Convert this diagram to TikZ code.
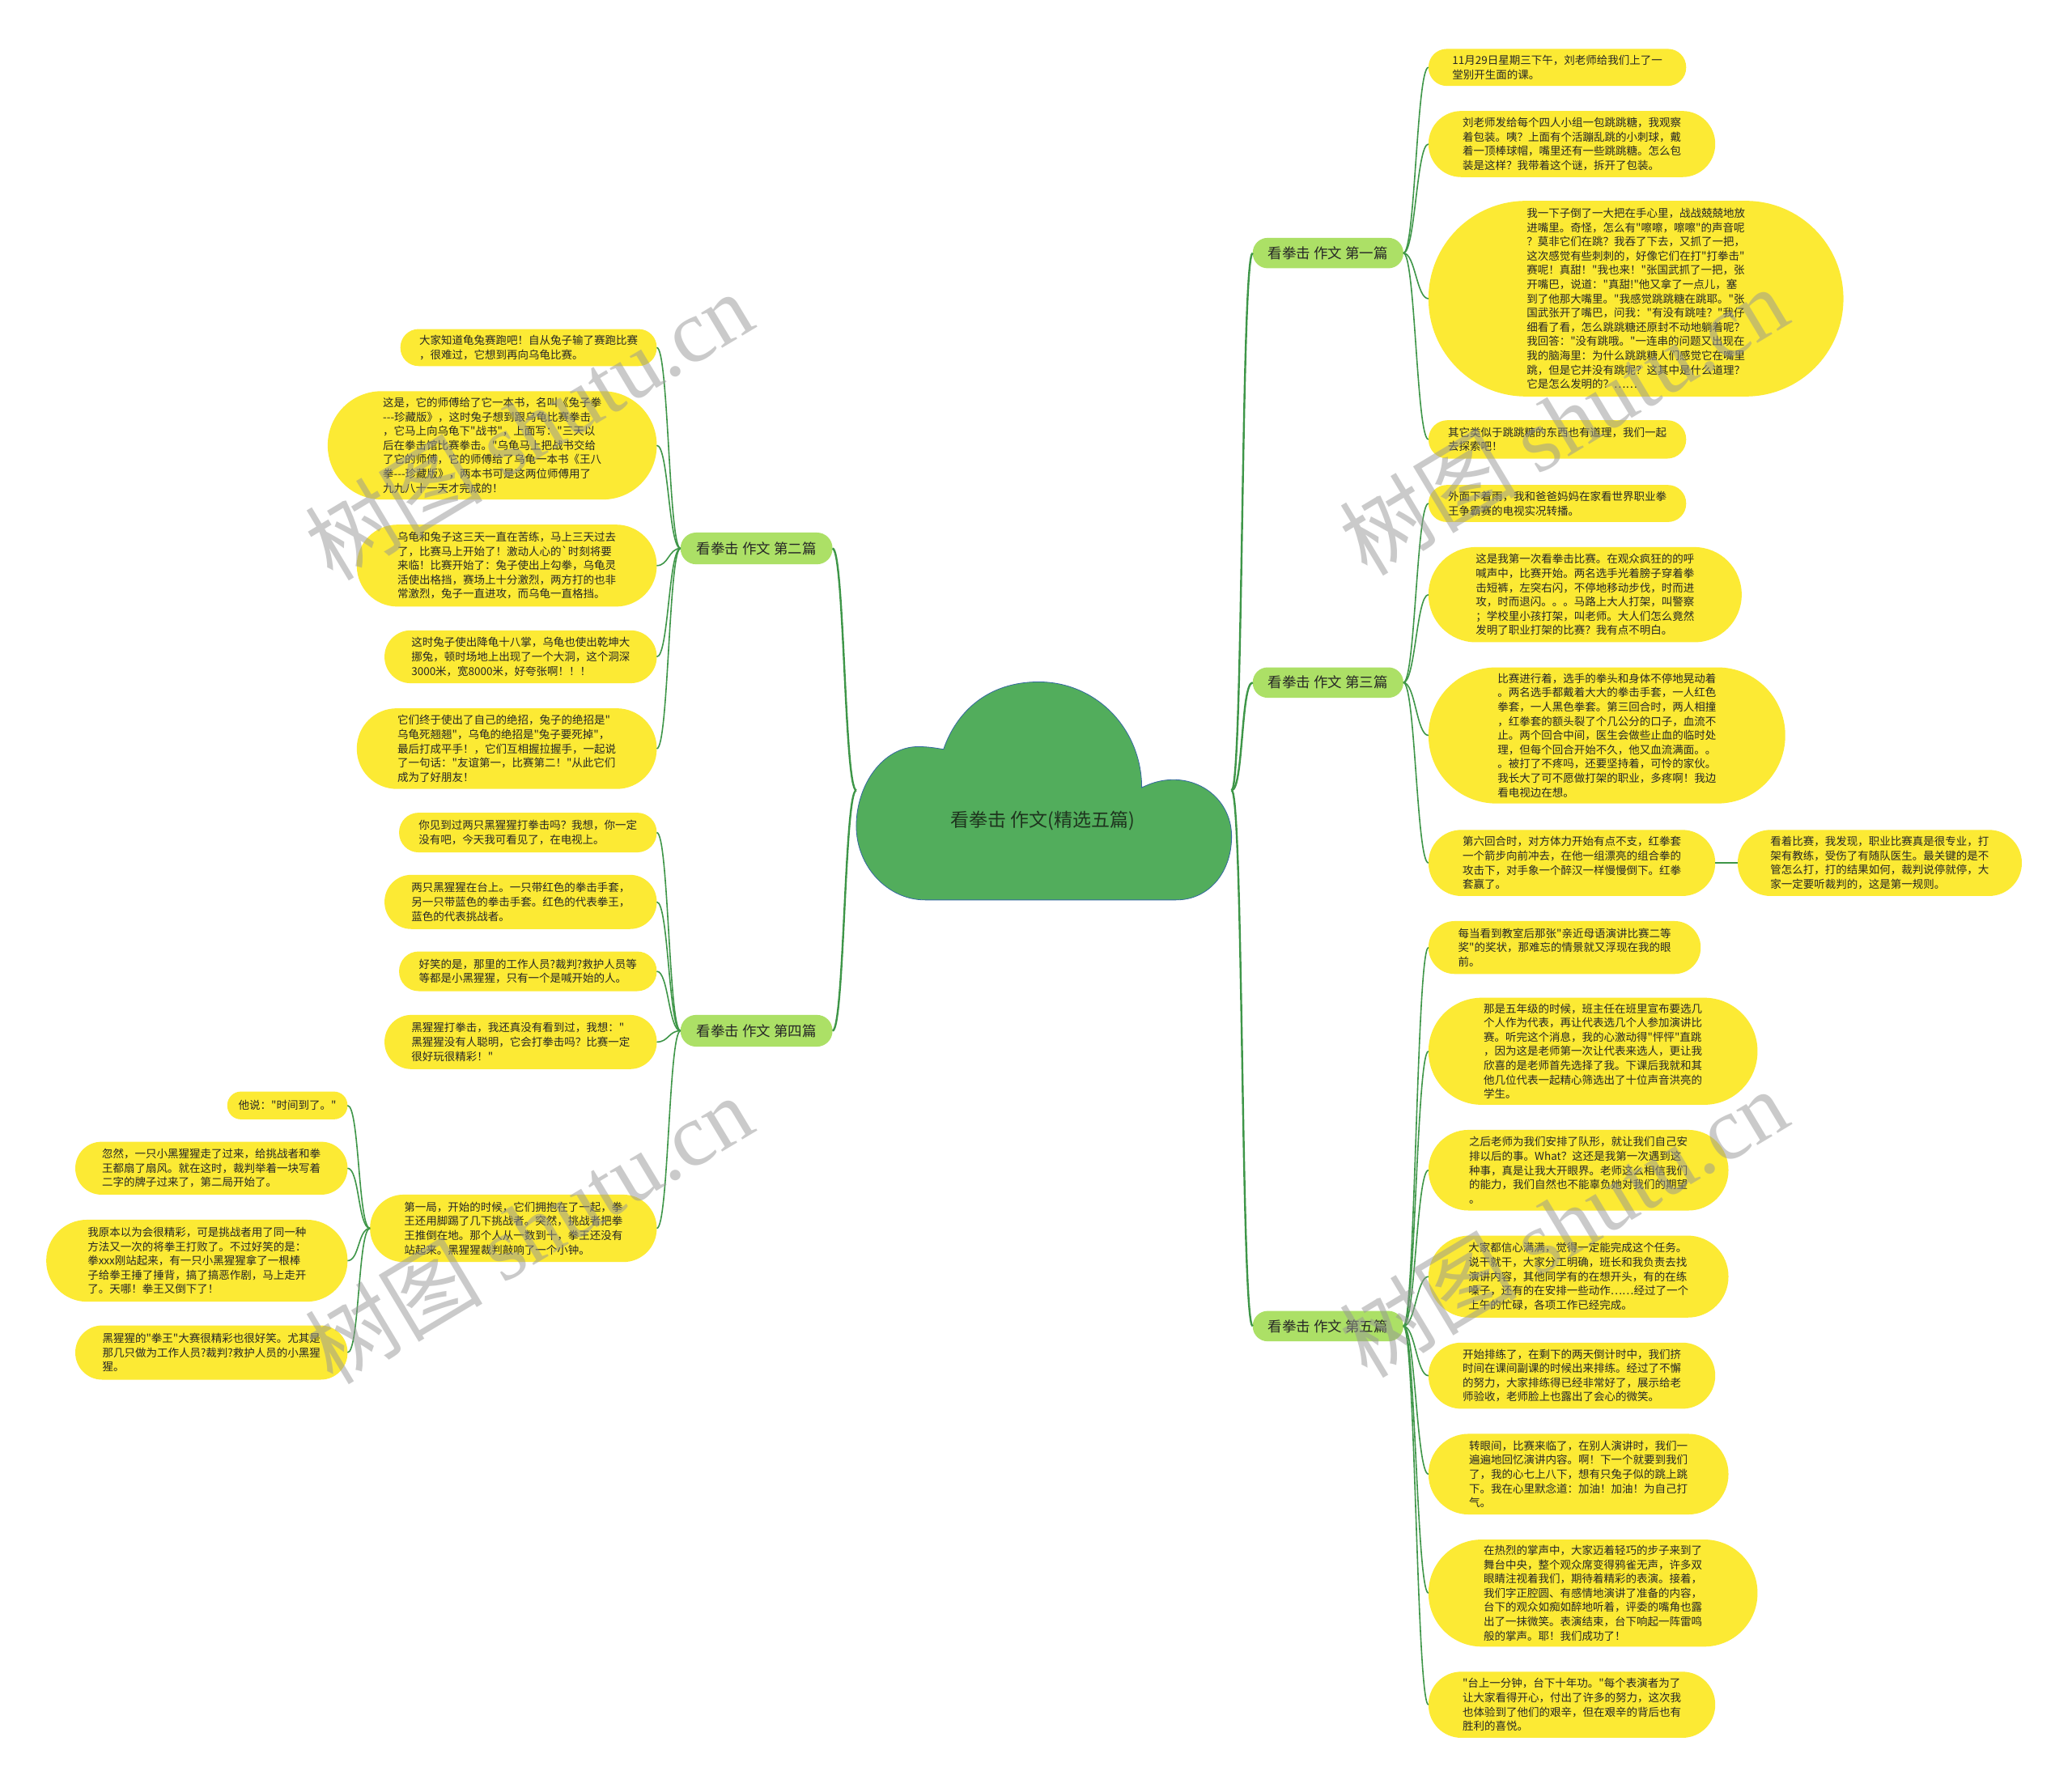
\documentclass[tikz,border=0pt]{standalone}
\usepackage{fontspec}
\newfontfamily\cjk{Noto Sans CJK SC}
\newfontfamily\wmserif{Liberation Serif}
\definecolor{leafyellow}{RGB}{252,234,52}
\definecolor{branchgreen}{RGB}{172,224,102}
\definecolor{linegreen}{RGB}{62,150,72}
\definecolor{cloudgreen}{RGB}{82,173,92}
\definecolor{cloudedge}{RGB}{52,104,160}
\definecolor{textdark}{RGB}{38,38,38}
\definecolor{wmgray}{RGB}{150,150,150}
\tikzset{
  leafbox/.style={fill=leafyellow, font=\cjk\fontsize{13.5}{17.6}\selectfont, text=textdark, align=left, inner sep=0pt, outer sep=0pt},
  branchbox/.style={fill=branchgreen, font=\cjk\fontsize{17.5}{21}\selectfont, text=textdark, inner sep=0pt, outer sep=0pt},
  conn/.style={draw=linegreen, line width=1.6pt},
  rootconn/.style={draw=linegreen, line width=2.4pt},
  wmark/.style={font=\cjk\fontsize{110}{120}\selectfont, text=wmgray, opacity=0.5, rotate=31}
}
\newcommand\mybox[7]{%
  \pgfmathsetmacro\leafW{(#5-#3)*1.6327}%
  \pgfmathsetmacro\leafH{(#6-#4)*1.6327}%
  \pgfmathsetmacro\leafR{\leafH/2-0.3}%
  \node[#1, minimum width=\leafW pt, minimum height=\leafH pt, rounded corners=\leafR pt] (#2) at ({(#3+#5)/2},{(#4+#6)/2}) {#7};}
\newcommand\rlink[3][conn]{\draw[#1] (#2.east) .. controls +(9,0) and +(-9,0) .. (#3.west);}
\newcommand\llink[3][conn]{\draw[#1] (#2.west) .. controls +(-9,0) and +(9,0) .. (#3.east);}
\begin{document}
\begin{tikzpicture}[x=1.6327pt, y=-1.6327pt]
\fill[white] (0,0) rectangle (1568,1353);
\useasboundingbox (0,0) rectangle (1568,1353);

% cloud
\filldraw[fill=cloudgreen, draw=cloudedge, line width=0.8pt]
  (700,681) -- (890,681)
  .. controls (915,681) and (932,660) .. (932,633)
  .. controls (932,608) and (912,590) .. (888,590)
  .. controls (878,590) and (870,593) .. (864,596)
  .. controls (864,552) and (830,516) .. (786,516)
  .. controls (748,516) and (724,538) .. (714,567)
  .. controls (708,566) and (702,565) .. (695,565)
  .. controls (668,565) and (648,594) .. (648,625)
  .. controls (648,656) and (672,681) .. (700,681) -- cycle;
\node[inner sep=0pt, outer sep=0pt, minimum width=463.7pt, minimum height=267.8pt] (root) at (790,598) {};
\node[font=\cjk\fontsize{23}{28}\selectfont, text={rgb,255:red,30;green,52;blue,30}] (title) at (789,621) {看拳击 作文(精选五篇)};

% branches
\mybox{branchbox}{b1}{948}{180}{1062}{203}{看拳击 作文 第一篇}
\mybox{branchbox}{b3}{948}{505}{1062}{528}{看拳击 作文 第三篇}
\mybox{branchbox}{b5}{948}{992}{1062}{1015}{看拳击 作文 第五篇}
\mybox{branchbox}{b2}{515}{403}{630}{427}{看拳击 作文 第二篇}
\mybox{branchbox}{b4}{515}{768}{630}{792}{看拳击 作文 第四篇}

% section 1
\mybox{leafbox}{r1}{1081}{37}{1276}{65}{11月29日星期三下午，刘老师给我们上了一\\堂别开生面的课。}
\mybox{leafbox}{r2}{1081}{84}{1298}{134}{刘老师发给每个四人小组一包跳跳糖，我观察\\着包装。咦？上面有个活蹦乱跳的小刺球，戴\\着一顶棒球帽，嘴里还有一些跳跳糖。怎么包\\装是这样？我带着这个谜，拆开了包装。}
\mybox{leafbox}{r3}{1081}{152}{1395}{300}{我一下子倒了一大把在手心里，战战兢兢地放\\进嘴里。奇怪，怎么有"嚓嚓，嚓嚓"的声音呢\\？莫非它们在跳？我吞了下去，又抓了一把，\\这次感觉有些刺刺的，好像它们在打"打拳击"\\赛呢！真甜！"我也来！"张国武抓了一把，张\\开嘴巴，说道："真甜!"他又拿了一点儿，塞\\到了他那大嘴里。"我感觉跳跳糖在跳耶。"张\\国武张开了嘴巴，问我："有没有跳哇？"我仔\\细看了看，怎么跳跳糖还原封不动地躺着呢？\\我回答："没有跳哦。"一连串的问题又出现在\\我的脑海里：为什么跳跳糖人们感觉它在嘴里\\跳，但是它并没有跳呢？这其中是什么道理？\\它是怎么发明的？……}
\mybox{leafbox}{r4}{1081}{318}{1276}{347}{其它类似于跳跳糖的东西也有道理，我们一起\\去探索吧！}

% section 3
\mybox{leafbox}{r5}{1081}{367}{1276}{395}{外面下着雨，我和爸爸妈妈在家看世界职业拳\\王争霸赛的电视实况转播。}
\mybox{leafbox}{r6}{1081}{414}{1318}{486}{这是我第一次看拳击比赛。在观众疯狂的的呼\\喊声中，比赛开始。两名选手光着膀子穿着拳\\击短裤，左突右闪，不停地移动步伐，时而进\\攻，时而退闪。。。马路上大人打架，叫警察\\；学校里小孩打架，叫老师。大人们怎么竟然\\发明了职业打架的比赛？我有点不明白。}
\mybox{leafbox}{r7}{1081}{505}{1351}{608}{比赛进行着，选手的拳头和身体不停地晃动着\\。两名选手都戴着大大的拳击手套，一人红色\\拳套，一人黑色拳套。第三回合时，两人相撞\\，红拳套的额头裂了个几公分的口子，血流不\\止。两个回合中间，医生会做些止血的临时处\\理，但每个回合开始不久，他又血流满面。。\\。被打了不疼吗，还要坚持着，可怜的家伙。\\我长大了可不愿做打架的职业，多疼啊！我边\\看电视边在想。}
\mybox{leafbox}{r8}{1081}{628}{1298}{678}{第六回合时，对方体力开始有点不支，红拳套\\一个箭步向前冲去，在他一组漂亮的组合拳的\\攻击下，对手象一个醉汉一样慢慢倒下。红拳\\套赢了。}
\mybox{leafbox}{r8a}{1315}{628}{1530}{678}{看着比赛，我发现，职业比赛真是很专业，打\\架有教练，受伤了有随队医生。最关键的是不\\管怎么打，打的结果如何，裁判说停就停，大\\家一定要听裁判的，这是第一规则。}

% section 5
\mybox{leafbox}{r9}{1081}{697}{1287}{737}{每当看到教室后那张"亲近母语演讲比赛二等\\奖"的奖状，那难忘的情景就又浮现在我的眼\\前。}
\mybox{leafbox}{r10}{1081}{755}{1330}{836}{那是五年级的时候，班主任在班里宣布要选几\\个人作为代表，再让代表选几个人参加演讲比\\赛。听完这个消息，我的心激动得"怦怦"直跳\\，因为这是老师第一次让代表来选人，更让我\\欣喜的是老师首先选择了我。下课后我就和其\\他几位代表一起精心筛选出了十位声音洪亮的\\学生。}
\mybox{leafbox}{r11}{1081}{855}{1308}{916}{之后老师为我们安排了队形，就让我们自己安\\排以后的事。What？这还是我第一次遇到这\\种事，真是让我大开眼界。老师这么相信我们\\的能力，我们自然也不能辜负她对我们的期望\\。}
\mybox{leafbox}{r12}{1081}{935}{1308}{997}{大家都信心满满，觉得一定能完成这个任务。\\说干就干，大家分工明确，班长和我负责去找\\演讲内容，其他同学有的在想开头，有的在练\\嗓子，还有的在安排一些动作……经过了一个\\上午的忙碌，各项工作已经完成。}
\mybox{leafbox}{r13}{1081}{1016}{1298}{1066}{开始排练了，在剩下的两天倒计时中，我们挤\\时间在课间副课的时候出来排练。经过了不懈\\的努力，大家排练得已经非常好了，展示给老\\师验收，老师脸上也露出了会心的微笑。}
\mybox{leafbox}{r14}{1081}{1085}{1308}{1146}{转眼间，比赛来临了，在别人演讲时，我们一\\遍遍地回忆演讲内容。啊！下一个就要到我们\\了，我的心七上八下，想有只兔子似的跳上跳\\下。我在心里默念道：加油！加油！为自己打\\气。}
\mybox{leafbox}{r15}{1081}{1165}{1330}{1246}{在热烈的掌声中，大家迈着轻巧的步子来到了\\舞台中央，整个观众席变得鸦雀无声，许多双\\眼睛注视着我们，期待着精彩的表演。接着，\\我们字正腔圆、有感情地演讲了准备的内容，\\台下的观众如痴如醉地听着，评委的嘴角也露\\出了一抹微笑。表演结束，台下响起一阵雷鸣\\般的掌声。耶！我们成功了！}
\mybox{leafbox}{r16}{1081}{1265}{1298}{1315}{"台上一分钟，台下十年功。"每个表演者为了\\让大家看得开心，付出了许多的努力，这次我\\也体验到了他们的艰辛，但在艰辛的背后也有\\胜利的喜悦。}

% section 2
\mybox{leafbox}{l1}{303}{249}{497}{277}{大家知道龟兔赛跑吧！自从兔子输了赛跑比赛\\，很难过，它想到再向乌龟比赛。}
\mybox{leafbox}{l2}{248}{296}{497}{378}{这是，它的师傅给了它一本书，名叫《兔子拳\\-{}-{}-珍藏版》，这时兔子想到跟乌龟比赛拳击\\，它马上向乌龟下"战书"，上面写："三天以\\后在拳击馆比赛拳击。"乌龟马上把战书交给\\了它的师傅，它的师傅给了乌龟一本书《王八\\拳-{}-{}-珍藏版》，两本书可是这两位师傅用了\\九九八十一天才完成的！}
\mybox{leafbox}{l3}{270}{397}{497}{459}{乌龟和兔子这三天一直在苦练，马上三天过去\\了，比赛马上开始了！激动人心的`时刻将要\\来临！比赛开始了：兔子使出上勾拳，乌龟灵\\活使出格挡，赛场上十分激烈，两方打的也非\\常激烈，兔子一直进攻，而乌龟一直格挡。}
\mybox{leafbox}{l4}{291}{477}{497}{517}{这时兔子使出降龟十八掌，乌龟也使出乾坤大\\挪兔，顿时场地上出现了一个大洞，这个洞深\\3000米，宽8000米，好夸张啊！！！}
\mybox{leafbox}{l5}{270}{536}{497}{597}{它们终于使出了自己的绝招，兔子的绝招是"\\乌龟死翘翘"，乌龟的绝招是"兔子要死掉"，\\最后打成平手！，它们互相握拉握手，一起说\\了一句话："友谊第一，比赛第二！"从此它们\\成为了好朋友！}

% section 4
\mybox{leafbox}{l6}{302}{615}{497}{645}{你见到过两只黑猩猩打拳击吗？我想，你一定\\没有吧，今天我可看见了，在电视上。}
\mybox{leafbox}{l7}{291}{662}{497}{703}{两只黑猩猩在台上。一只带红色的拳击手套，\\另一只带蓝色的拳击手套。红色的代表拳王，\\蓝色的代表挑战者。}
\mybox{leafbox}{l8}{302}{720}{497}{750}{好笑的是，那里的工作人员?裁判?救护人员等\\等都是小黑猩猩，只有一个是喊开始的人。}
\mybox{leafbox}{l9}{291}{768}{497}{809}{黑猩猩打拳击，我还真没有看到过，我想："\\黑猩猩没有人聪明，它会打拳击吗？比赛一定\\很好玩很精彩！"}
\mybox{leafbox}{l10}{280}{904}{497}{955}{第一局，开始的时候，它们拥抱在了一起，拳\\王还用脚踢了几下挑战者。突然，挑战者把拳\\王推倒在地。那个人从一数到十，拳王还没有\\站起来。黑猩猩裁判敲响了一个小钟。}
\mybox{leafbox}{l10a}{172}{826}{263}{847}{他说："时间到了。"}
\mybox{leafbox}{l10b}{57}{864}{263}{904}{忽然，一只小黑猩猩走了过来，给挑战者和拳\\王都扇了扇风。就在这时，裁判举着一块写着\\二字的牌子过来了，第二局开始了。}
\mybox{leafbox}{l10c}{35}{923}{263}{985}{我原本以为会很精彩，可是挑战者用了同一种\\方法又一次的将拳王打败了。不过好笑的是：\\拳xxx刚站起来，有一只小黑猩猩拿了一根棒\\子给拳王捶了捶背，搞了搞恶作剧，马上走开\\了。天哪！拳王又倒下了！}
\mybox{leafbox}{l10d}{57}{1003}{263}{1044}{黑猩猩的"拳王"大赛很精彩也很好笑。尤其是\\那几只做为工作人员?裁判?救护人员的小黑猩\\猩。}

% connectors
\rlink[rootconn]{root}{b1}
\rlink[rootconn]{root}{b3}
\rlink[rootconn]{root}{b5}
\llink[rootconn]{root}{b2}
\llink[rootconn]{root}{b4}
\foreach \t in {r1,r2,r3,r4} {\rlink{b1}{\t}}
\foreach \t in {r5,r6,r7,r8} {\rlink{b3}{\t}}
\draw[conn] (r8.east) -- (r8a.west);
\foreach \t in {r9,r10,r11,r12,r13,r14,r15,r16} {\rlink{b5}{\t}}
\foreach \t in {l1,l2,l3,l4,l5} {\llink{b2}{\t}}
\foreach \t in {l6,l7,l8,l9,l10} {\llink{b4}{\t}}
\foreach \t in {l10a,l10b,l10c,l10d} {\llink{l10}{\t}}

% watermarks
\node[wmark] (wm1) at (400,322) {树图 {\wmserif shutu.cn}};
\node[wmark] (wm2) at (400,930) {树图 {\wmserif shutu.cn}};
\node[wmark] (wm3) at (1183,318) {树图 {\wmserif shutu.cn}};
\node[wmark] (wm4) at (1183,925) {树图 {\wmserif shutu.cn}};
\end{tikzpicture}
\end{document}
